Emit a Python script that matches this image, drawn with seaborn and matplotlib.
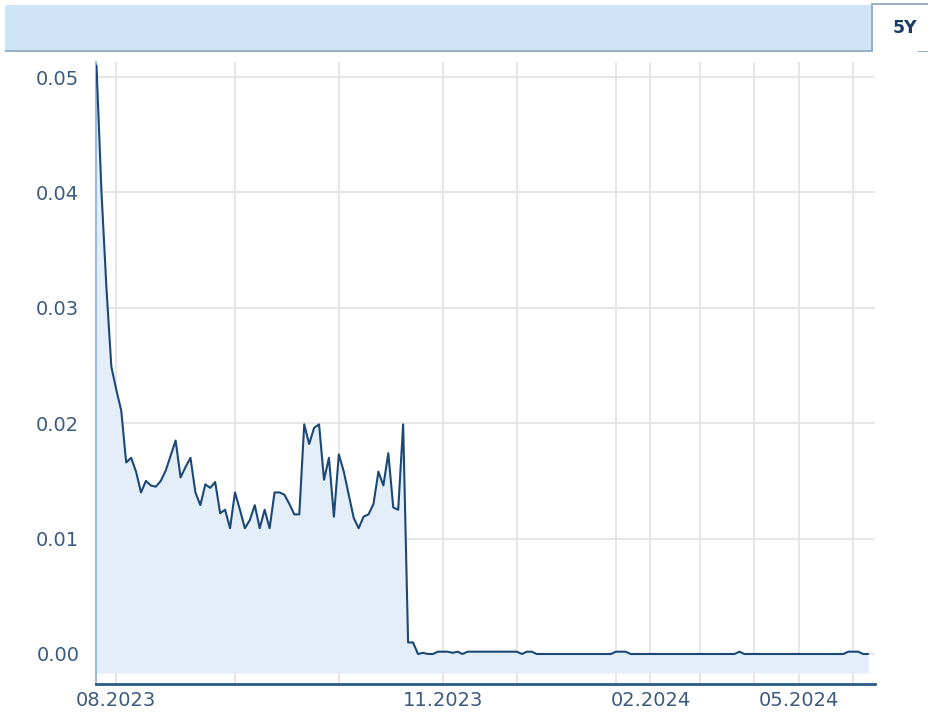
import numpy as np
import pandas as pd
import matplotlib
matplotlib.use("Agg")
import matplotlib.pyplot as plt
from matplotlib.patches import Rectangle
import seaborn as sns

# months covered by the series and how many points fall in each one
months = ['07.2023', '08.2023', '09.2023', '10.2023', '11.2023', '12.2023',
          '01.2024', '02.2024', '03.2024', '04.2024', '05.2024', '06.2024']
month_counts = [4, 24, 21, 21, 15, 20, 7, 10, 11, 9, 11, 4]
labelled_months = ['08.2023', '11.2023', '02.2024', '05.2024']

prices = [
    # 07.2023
    0.0510, 0.0401, 0.0318, 0.0249,
    # 08.2023
    0.0229, 0.0211, 0.0166, 0.0170, 0.0158, 0.0140, 0.0150, 0.0146,
    0.0145, 0.0150, 0.0159, 0.0172, 0.0185, 0.0153, 0.0162, 0.0170,
    0.0140, 0.0129, 0.0147, 0.0144, 0.0149, 0.0122, 0.0125, 0.0109,
    # 09.2023
    0.0140, 0.0125, 0.0109, 0.0116, 0.0129, 0.0109, 0.0125, 0.0109,
    0.0140, 0.0140, 0.0138, 0.0130, 0.0121, 0.0121, 0.0199, 0.0182,
    0.0196, 0.0199, 0.0151, 0.0170, 0.0119,
    # 10.2023
    0.0173, 0.0158, 0.0138, 0.0118, 0.0109, 0.0119, 0.0121, 0.0130,
    0.0158, 0.0146, 0.0174, 0.0127, 0.0125, 0.0199, 0.0010, 0.0010,
    0.0000, 0.0001, 0.0000, 0.0000, 0.0002,
    # 11.2023
    0.0002, 0.0002, 0.0001, 0.0002, 0.0000, 0.0002, 0.0002, 0.0002,
    0.0002, 0.0002, 0.0002, 0.0002, 0.0002, 0.0002, 0.0002,
    # 12.2023
    0.0002, 0.0000, 0.0002, 0.0002, 0.0000, 0.0000, 0.0000, 0.0000,
    0.0000, 0.0000, 0.0000, 0.0000, 0.0000, 0.0000, 0.0000, 0.0000,
    0.0000, 0.0000, 0.0000, 0.0000,
    # 01.2024
    0.0002, 0.0002, 0.0002, 0.0000, 0.0000, 0.0000, 0.0000,
    # 02.2024
    0.0000, 0.0000, 0.0000, 0.0000, 0.0000, 0.0000, 0.0000, 0.0000,
    0.0000, 0.0000,
    # 03.2024
    0.0000, 0.0000, 0.0000, 0.0000, 0.0000, 0.0000, 0.0000, 0.0000,
    0.0002, 0.0000, 0.0000,
    # 04.2024
    0.0000, 0.0000, 0.0000, 0.0000, 0.0000, 0.0000, 0.0000, 0.0000,
    0.0000,
    # 05.2024
    0.0000, 0.0000, 0.0000, 0.0000, 0.0000, 0.0000, 0.0000, 0.0000,
    0.0000, 0.0000, 0.0002,
    # 06.2024
    0.0002, 0.0002, 0.0000, 0.0000,
]
y_ticks = [0.00, 0.01, 0.02, 0.03, 0.04, 0.05]

df = pd.DataFrame({'point': np.arange(len(prices)), 'price': prices})
month_starts = np.concatenate([[0], np.cumsum(month_counts)[:-1]])

line_col = '#1b4877'
fill_col = '#e3eef9'
text_col = '#3b5a80'
grid_col = '#e6e6e6'
border_col = '#98b0c8'

sns.set_style('white')
W, H = 929, 713
fig = plt.figure(figsize=(W / 100, H / 100), dpi=100)

def px(x0, y0, x1, y1):
    # pixel box (from top-left) -> figure fraction rect
    return [x0 / W, 1 - y1 / H, (x1 - x0) / W, (y1 - y0) / H]

def box(x0, y0, x1, y1, color):
    l, b, w, h = px(x0, y0, x1, y1)
    fig.add_artist(Rectangle((l, b), w, h, transform=fig.transFigure,
                             facecolor=color, edgecolor='none'))

ax = fig.add_axes(px(96, 62, 875, 684))

# area under the price line
ax.fill_between(df['point'], -0.00165, df['price'], color=fill_col, lw=0, zorder=1)
sns.lineplot(data=df, x='point', y='price', ax=ax, color=line_col, lw=1.5, zorder=3)

ax.set_xlim(-0.1, 157.4)
ax.set_ylim(-0.0026, 0.0513)

ax.set_yticks(y_ticks)
ax.set_yticklabels([f'{v:.2f}' for v in y_ticks])

major_pos = [month_starts[months.index(m)] for m in labelled_months]
minor_pos = [s for s, m in zip(month_starts[1:], months[1:]) if m not in labelled_months]
ax.set_xticks(major_pos)
ax.set_xticklabels(labelled_months)
ax.set_xticks(minor_pos, minor=True)

ax.grid(True, which='both', color=grid_col, lw=1.4, zorder=0)
ax.set_axisbelow(True)
ax.tick_params(axis='both', which='both', length=0, labelsize=14, colors=text_col)
ax.tick_params(axis='x', pad=5)
ax.tick_params(axis='y', pad=12)
ax.set_xlabel('')
ax.set_ylabel('')

for side in ['top', 'right']:
    ax.spines[side].set_visible(False)
ax.spines['left'].set_color('#9fbad6')
ax.spines['left'].set_linewidth(1.5)
ax.spines['bottom'].set_color('#2c5a88')
ax.spines['bottom'].set_linewidth(2)

# header band and "5Y" tab
box(5, 5, 871, 51, '#cfe4f7')
box(5, 50, 873, 52, border_col)
box(871, 4, 873, 52, border_col)
box(871, 3, 929, 5, border_col)
box(918, 51, 929, 52, border_col)
fig.text(905 / W, 1 - 28 / H, '5Y', ha='center', va='center', fontsize=12.5,
         fontweight='bold', color='#1a3d66')

fig.savefig('out.png', dpi=100)
